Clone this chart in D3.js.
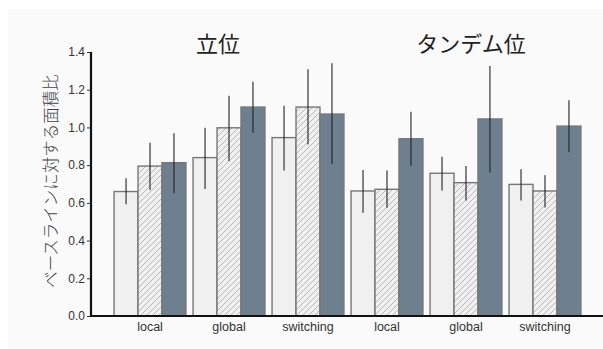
<!DOCTYPE html>
<html>
<head>
<meta charset="utf-8">
<script src="https://cdn.jsdelivr.net/npm/d3@7"></script>
<style>
  body { margin: 0; background: #fff; }
  .tick text { font-family: "Liberation Sans Narrow", "Liberation Sans", sans-serif; font-size: 12px; fill: #333; }
  .xaxis .tick text { font-size: 12.5px; }
</style>
</head>
<body>
<div id="chart"></div>
<script>
// groups along the x axis (two postures x three conditions)
var groups = ["立位|local", "立位|global", "立位|switching", "タンデム位|local", "タンデム位|global", "タンデム位|switching"];
var groupLabels = ["local", "global", "switching", "local", "global", "switching"];
var panelTitles = ["立位", "タンデム位"];
var seriesNames = ["s1", "s2", "s3"];

// bar heights per series
var s1 = [0.66, 0.84, 0.946, 0.663, 0.757, 0.698];
var s2 = [0.795, 0.998, 1.108, 0.672, 0.707, 0.663];
var s3 = [0.813, 1.108, 1.071, 0.940, 1.045, 1.007];

// error bar ends
var s1Lo = [0.593, 0.673, 0.771, 0.548, 0.665, 0.612];
var s1Hi = [0.730, 0.998, 1.115, 0.774, 0.845, 0.778];
var s2Lo = [0.668, 0.822, 0.910, 0.574, 0.612, 0.576];
var s2Hi = [0.919, 1.168, 1.308, 0.771, 0.795, 0.746];
var s3Lo = [0.651, 0.972, 0.806, 0.795, 0.760, 0.868];
var s3Hi = [0.969, 1.242, 1.340, 1.083, 1.326, 1.144];

var yTicks = [0, 0.2, 0.4, 0.6, 0.8, 1.0, 1.2, 1.4];

function init() {
    var w = 603;
    var h = 349;

    var vals = [s1, s2, s3];
    var los = [s1Lo, s2Lo, s3Lo];
    var his = [s1Hi, s2Hi, s3Hi];

    var svg = d3.select("#chart")
                .append("svg")
                .attr("width", w)
                .attr("height", h);

    //background panel
    svg.append("rect")
        .attr("x", 8).attr("y", 9)
        .attr("width", w - 8).attr("height", h - 9)
        .attr("fill", "#fafafa");

    //hatch pattern for middle series
    var defs = svg.append("defs");
    var pat = defs.append("pattern")
        .attr("id", "hatch")
        .attr("patternUnits", "userSpaceOnUse")
        .attr("width", 6).attr("height", 6);
    pat.append("rect").attr("width", 6).attr("height", 6).attr("fill", "#f0f0f0");
    pat.append("path")
        .attr("d", "M0,6 L6,0 M-1.5,1.5 L1.5,-1.5 M4.5,7.5 L7.5,4.5")
        .attr("stroke", "#a8a8a8")
        .attr("stroke-width", 0.8);

    var xScale = d3.scaleBand()
                   .domain(groups)
                   .range([91, 604])
                   .paddingInner(0.09)
                   .paddingOuter(0.292);

    var xSub = d3.scaleBand()
                 .domain(seriesNames)
                 .range([0, xScale.bandwidth()]);

    var yScale = d3.scaleLinear()
                   .domain([0, 1.4])
                   .range([316, 52]);

    var fills = ["#f0f0f0", "url(#hatch)", "#6e7f8f"];

    //bars
    seriesNames.forEach(function(s, si) {
        svg.append("g")
            .selectAll("rect")
            .data(groups)
            .enter()
            .append("rect")
            .attr("x", function(d) { return xScale(d) + xSub(s); })
            .attr("y", function(d, i) { return yScale(vals[si][i]); })
            .attr("width", xSub.bandwidth())
            .attr("height", function(d, i) { return yScale(0) - yScale(vals[si][i]); })
            .attr("fill", fills[si])
            .attr("stroke", "#777")
            .attr("stroke-width", 1.4);
    });

    //error bars
    seriesNames.forEach(function(s, si) {
        svg.append("g")
            .selectAll("line")
            .data(groups)
            .enter()
            .append("line")
            .attr("x1", function(d) { return xScale(d) + xSub(s) + xSub.bandwidth() / 2; })
            .attr("x2", function(d) { return xScale(d) + xSub(s) + xSub.bandwidth() / 2; })
            .attr("y1", function(d, i) { return yScale(los[si][i]); })
            .attr("y2", function(d, i) { return yScale(his[si][i]); })
            .attr("stroke", "#222")
            .attr("stroke-width", 1.1);
    });

    //axes
    var xAxis = d3.axisBottom(xScale)
                  .tickSize(0)
                  .tickPadding(6)
                  .tickFormat(function(d, i) { return groupLabels[i]; });

    var yAxis = d3.axisLeft(yScale)
                  .tickValues(yTicks)
                  .tickSize(4)
                  .tickPadding(2)
                  .tickFormat(d3.format(".1f"));

    var gx = svg.append("g")
        .attr("class", "xaxis")
        .attr("transform", "translate(0,316)")
        .call(xAxis);
    gx.select(".domain").remove();
    gx.append("line")
        .attr("x1", 90).attr("x2", w)
        .attr("stroke", "#111").attr("stroke-width", 2.2);

    var gy = svg.append("g")
        .attr("transform", "translate(91,0)")
        .call(yAxis);
    gy.select(".domain").remove();
    gy.append("line")
        .attr("y1", yScale(1.4)).attr("y2", 317)
        .attr("stroke", "#111").attr("stroke-width", 2.2);
    gy.selectAll(".tick line").attr("stroke", "#333");

    //panel titles
    var titleX = [218, 471];
    svg.selectAll(".ptitle")
        .data(panelTitles)
        .enter()
        .append("text")
        .attr("class", "ptitle")
        .attr("x", function(d, i) { return titleX[i]; })
        .attr("y", 52)
        .attr("text-anchor", "middle")
        .attr("font-family", "'Noto Sans CJK JP', sans-serif")
        .attr("font-size", 22)
        .attr("fill", "#222")
        .text(function(d) { return d; });

    //y label
    svg.append("text")
        .attr("transform", "translate(57,181) rotate(-90)")
        .attr("text-anchor", "middle")
        .attr("font-family", "'Noto Sans CJK JP', sans-serif")
        .attr("font-size", 16.5)
        .attr("font-weight", 300)
        .attr("fill", "#444")
        .text("ベースラインに対する面積比");
}
window.onload = init;
</script>
</body>
</html>
